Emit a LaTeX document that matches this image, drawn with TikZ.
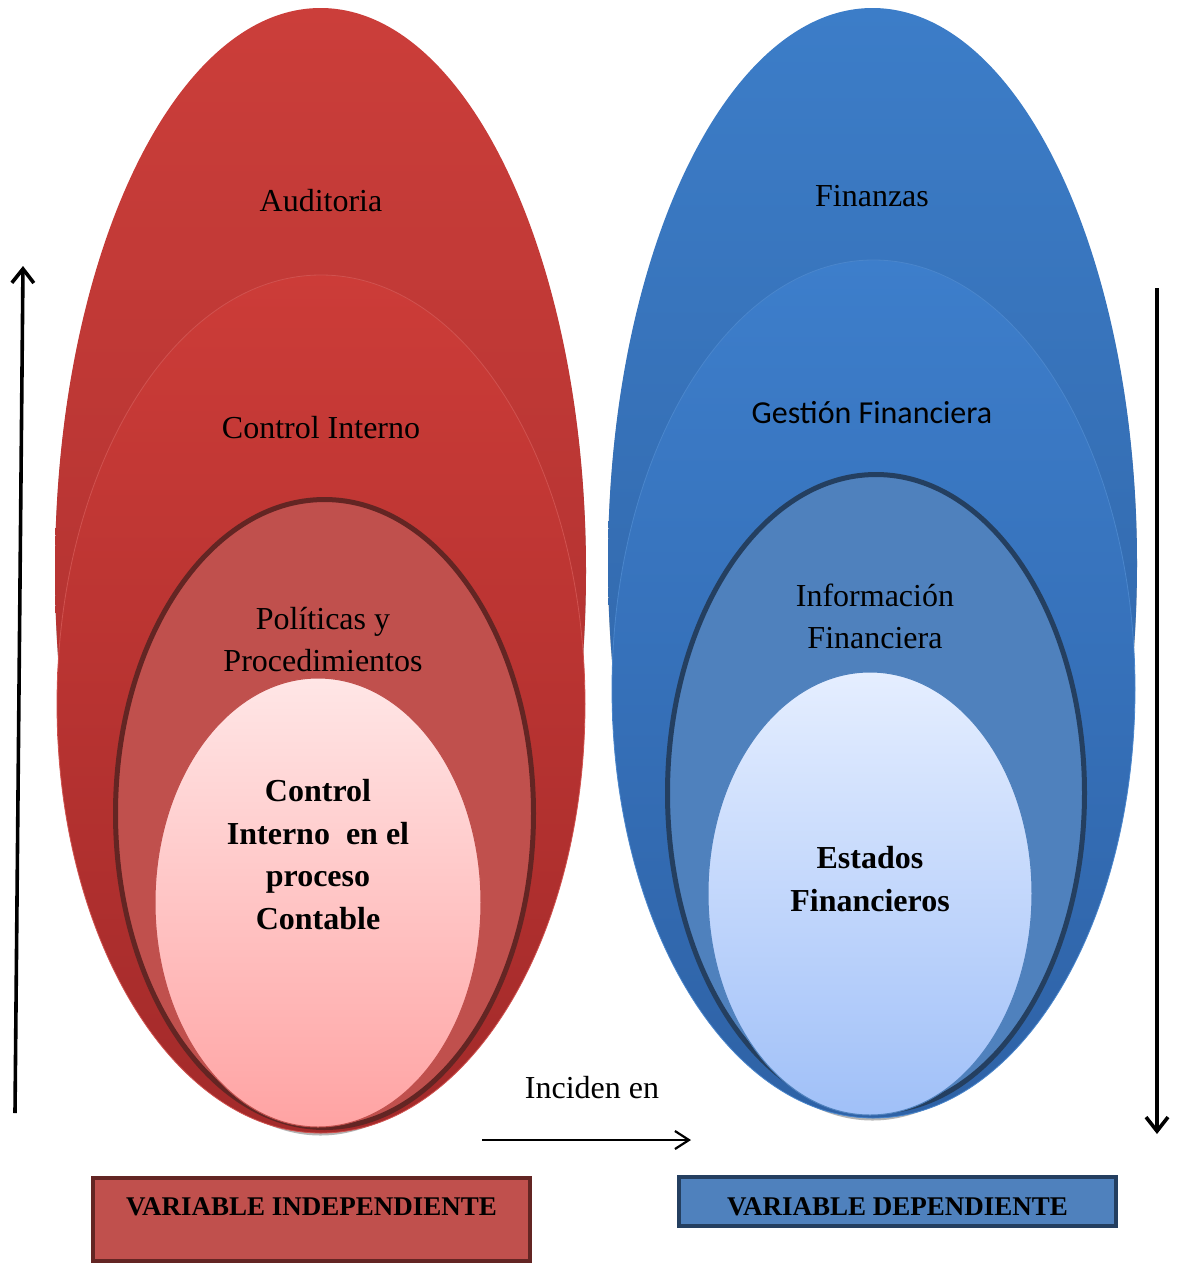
\documentclass[tikz,border=0pt]{standalone}
\usepackage{fontspec}
\setmainfont{Liberation Serif}
\newfontfamily\calibrifont{Carlito}
\usetikzlibrary{shapes.geometric,arrows.meta}

\definecolor{redOutTop}{HTML}{CB3E3A}
\definecolor{redOutBot}{HTML}{A52C2C}
\definecolor{redMidTop}{HTML}{CC3C38}
\definecolor{redMidBot}{HTML}{A32A2A}
\definecolor{redMidEdge}{HTML}{D0524F}
\definecolor{redInner}{HTML}{C0504D}
\definecolor{redDark}{HTML}{632523}
\definecolor{pinkTop}{HTML}{FFE6E6}
\definecolor{pinkBot}{HTML}{FFA3A3}
\definecolor{bluOutTop}{HTML}{3C7DC8}
\definecolor{bluOutBot}{HTML}{2D5E9E}
\definecolor{bluMidTop}{HTML}{3D7ECB}
\definecolor{bluMidBot}{HTML}{2E62A6}
\definecolor{bluMidEdge}{HTML}{4A86CC}
\definecolor{bluInner}{HTML}{4F81BD}
\definecolor{bluDark}{HTML}{243F60}
\definecolor{skyTop}{HTML}{E5EEFF}
\definecolor{skyBot}{HTML}{A0C0F8}
\definecolor{shadowGray}{HTML}{B4B4B4}

\tikzset{
  oval/.style={ellipse, inner sep=0pt, outer sep=0pt},
  shadowoval/.style={oval, fill=shadowGray},
  plain/.style={font=\fontsize{16}{21}\selectfont, align=center, inner sep=0pt},
  heavy/.style={font=\fontsize{16}{21.2}\selectfont\bfseries, align=center, inner sep=0pt},
  varbox/.style={rectangle, inner sep=0pt, outer sep=0pt, line width=2pt},
  vartext/.style={font=\fontsize{13.5}{16}\selectfont\bfseries, inner sep=0pt},
  bigarrow/.style={line width=1.8pt, -{Straight Barb[length=7pt, width=11pt, line width=1.8pt]}},
  smallarrow/.style={line width=1.1pt, -{Straight Barb[length=7pt, width=9pt, line width=1.1pt]}}
}

\begin{document}
\begin{tikzpicture}[x=0.5pt, y=-0.5pt]
\useasboundingbox (0,0) rectangle (1178,1265);

% ---------- left group: independent variable ----------
\node[shadowoval, minimum width=265.5pt, minimum height=562.5pt] (audShadow) at (320.5,573) {};
\node[oval, minimum width=265.5pt, minimum height=562.5pt, top color=redOutTop, bottom color=redOutBot] (aud) at (320.5,570.5) {};
\node[oval, minimum width=264pt, minimum height=429pt, top color=redMidTop, bottom color=redMidBot, draw=redMidEdge, line width=0.4pt] (ci) at (321,704) {};
\node[oval, minimum width=209pt, minimum height=314pt, fill=redInner, draw=redDark, line width=2.5pt] (pol) at (324.5,813.5) {};
\node[oval, minimum width=163pt, minimum height=224.5pt, top color=pinkTop, bottom color=pinkBot, draw=redInner, line width=0.5pt] (cic) at (318,902.5) {};

\node[plain] (audT) at (321,201) {Auditoria};
\node[plain] (ciT) at (321,428) {Control Interno};
\node[plain] (polT) at (323,640) {Políticas y\\Procedimientos};
\node[heavy] (cicT) at (318,854.5) {Control\\Interno\ \ en el\\proceso\\Contable};

% ---------- right group: dependent variable ----------
\node[shadowoval, minimum width=264.5pt, minimum height=555pt] (finShadow) at (872.5,565.5) {};
\node[oval, minimum width=264.5pt, minimum height=555pt, top color=bluOutTop, bottom color=bluOutBot] (fin) at (872.5,563) {};
\node[oval, minimum width=261.5pt, minimum height=429pt, top color=bluMidTop, bottom color=bluMidBot, draw=bluMidEdge, line width=0.4pt] (gf) at (873.5,689) {};
\node[oval, minimum width=208.5pt, minimum height=318.5pt, fill=bluInner, draw=bluDark, line width=2.5pt] (inf) at (876,793) {};
\node[oval, minimum width=162pt, minimum height=221.5pt, top color=skyTop, bottom color=skyBot, draw=bluInner, line width=0.5pt] (ef) at (870,893.5) {};

\node[plain] (finT) at (872,196) {Finanzas};
\node[plain, font=\fontsize{16}{21}\selectfont\calibrifont] (gfT) at (872,413) {Gestión Financiera};
\node[plain] (infT) at (875,616) {Información\\Financiera};
\node[heavy] (efT) at (870,879) {Estados\\Financieros};

% ---------- arrows ----------
\coordinate (upFrom) at (15,1113);
\coordinate (upTo) at (23,266);
\draw[bigarrow] (upFrom) -- (upTo);

\coordinate (downFrom) at (1157,288);
\coordinate (downTo) at (1157,1134);
\draw[bigarrow] (downFrom) -- (downTo);

\coordinate (midFrom) at (482,1140);
\coordinate (midTo) at (691,1140);
\draw[smallarrow] (midFrom) -- (midTo);
\node[plain] (inc) at (592,1088) {Inciden en};

% ---------- variable labels ----------
\node[varbox, fill=redInner, draw=redDark, minimum width=218.5pt, minimum height=41.5pt] (vi) at (311.5,1219.5) {};
\node[vartext] (viT) at (311.5,1207) {VARIABLE INDEPENDIENTE};

\node[varbox, fill=bluInner, draw=bluDark, minimum width=218.5pt, minimum height=24.5pt] (vd) at (897.5,1201.5) {};
\node[vartext] (vdT) at (897.5,1207) {VARIABLE DEPENDIENTE};
\end{tikzpicture}
\end{document}
